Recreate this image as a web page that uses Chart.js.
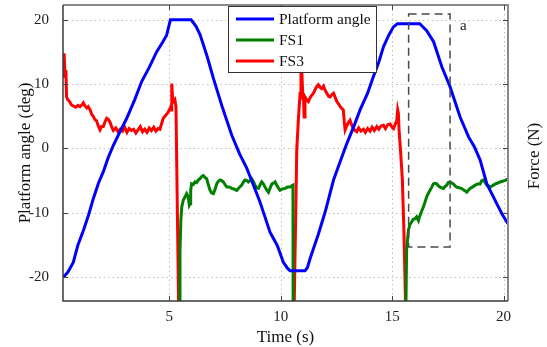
<!DOCTYPE html>
<html>
<head>
<meta charset="utf-8">
<script src="https://cdn.jsdelivr.net/npm/chart.js@4.4.1/dist/chart.umd.min.js"></script>
<style>
  html, body { margin: 0; padding: 0; background: #fff; }
  #wrap { width: 547px; height: 347px; }
</style>
</head>
<body>
<div id="wrap"><canvas id="trialChart" width="547" height="347"></canvas></div>
<script>
// Platform angle (deg) over time (s)
const angleTime = [0.25, 0.45, 0.69, 0.9, 1.14, 1.38, 1.59, 1.82, 2.04, 2.25, 2.49, 2.8, 3.09, 3.45, 3.76, 4.1, 4.43, 4.7, 4.88, 5.05,
    5.5, 5.98, 6.2, 6.38, 6.7, 6.98, 7.4, 7.8, 8.15, 8.48, 8.8, 9.07, 9.3, 9.52, 9.85, 10.12, 10.3, 10.42, 10.8, 11.09,
    11.2, 11.32, 11.7, 12.0, 12.37, 12.65, 12.97, 13.3, 13.56, 13.9, 14.16, 14.4, 14.61, 14.85, 15.06, 15.24, 15.7, 16.24,
    16.55, 16.86, 17.23, 17.6, 18.05, 18.43, 18.7, 18.95, 19.25, 19.5, 19.7, 19.95, 20.2];
const angle = [-20, -19.2, -17.7, -15.0, -12.8, -10.3, -7.8, -5.4, -3.6, -1.5, 0.5, 2.7, 4.7, 7.6, 10.4, 12.6, 15.0, 16.5, 17.6, 20,
    20, 20, 19, 17.7, 14.3, 10.9, 6.2, 2.1, -0.8, -3.1, -5.9, -8.3, -10.7, -13, -15.1, -17.7, -18.6, -19, -19, -19,
    -18.5, -17.1, -13.2, -9.8, -4.9, -2.2, 0.8, 3.6, 6.0, 8.6, 11.2, 13.4, 15.8, 17.6, 18.9, 19.4, 19.4, 19.4,
    18.3, 16.6, 12.7, 9.6, 4.9, 1.8, 0.2, -1.8, -5.5, -7.2, -8.6, -10.3, -11.7];

// FS1 force, values under the axis floor are the unloaded stretches
const fs1Time = [5.46, 5.48, 5.52, 5.56, 5.63, 5.7, 5.78, 5.84, 5.9, 5.93, 5.96, 6.0, 6.08, 6.15, 6.22, 6.3, 6.4, 6.47, 6.53, 6.6,
    6.68, 6.75, 6.83, 6.9, 6.98, 7.05, 7.13, 7.2, 7.28, 7.35, 7.43, 7.5, 7.58, 7.7, 7.8, 7.9, 8.03, 8.13, 8.25, 8.33,
    8.4, 8.48, 8.55, 8.62, 8.7, 8.78, 8.85, 8.92, 9.0, 9.08, 9.15, 9.22, 9.3, 9.38, 9.45, 9.52, 9.6, 9.68, 9.75, 9.85,
    9.97, 10.08, 10.2, 10.3, 10.42, 10.5, 10.55, 10.56, 15.6, 15.65, 15.73, 15.8, 15.88, 15.95, 16.03, 16.1, 16.18, 16.25, 16.32, 16.4,
    16.48, 16.55, 16.62, 16.7, 16.78, 16.85, 16.92, 17.0, 17.08, 17.15, 17.22, 17.3, 17.38, 17.45, 17.52, 17.6, 17.68, 17.75, 17.82, 17.9,
    18.0, 18.1, 18.2, 18.28, 18.35, 18.42, 18.5, 18.6, 18.73, 18.85, 18.95, 19.02, 19.1, 19.18, 19.25, 19.32, 19.4, 19.5, 19.63, 19.72,
    19.85, 19.95, 20.1, 20.2];
const fs1 = [-30, -15.8, -11, -9.1, -8.0, -7.6, -7.0, -7.4, -8.8, -8.6, -6.5, -5.5, -5.6, -5.2, -5.3, -4.9, -4.6, -4.3, -4.2, -4.5,
    -4.7, -5.6, -6.5, -6.9, -7.0, -6.4, -5.5, -5.1, -4.9, -5.0, -5.2, -5.6, -6.0, -6.0, -6.2, -6.3, -6.5, -6.1, -5.7, -5.2,
    -4.9, -5.0, -5.2, -5.0, -4.7, -5.2, -5.7, -6.1, -6.2, -5.6, -5.2, -5.5, -6.0, -6.5, -6.8, -6.2, -5.5, -5.4, -5.2, -5.9,
    -6.5, -6.3, -6.2, -6.0, -6.0, -5.8, -5.7, -30, -30, -15.8, -12.7, -11.8, -11.4, -11.0, -10.9, -10.6, -11.2, -10.4, -9.8, -9.1,
    -8.3, -7.5, -7.0, -6.5, -6.0, -5.5, -5.4, -5.5, -5.8, -6.0, -6.1, -6.2, -5.9, -5.7, -5.3, -5.2, -5.4, -5.5, -5.8, -6.0,
    -6.1, -6.2, -6.4, -6.6, -6.8, -6.5, -6.2, -6.0, -5.7, -5.5, -5.5, -5.0, -4.9, -5.3, -5.7, -5.8, -6.0, -5.8, -5.5, -5.4,
    -5.2, -5.1, -4.9, -4.7];

// FS3 force
const fs3Time = [0.24, 0.28, 0.32, 0.36, 0.39, 0.44, 0.47, 0.54, 0.6, 0.69, 0.8, 0.9, 0.99, 1.08, 1.14, 1.22, 1.3, 1.36, 1.45, 1.52,
    1.59, 1.66, 1.74, 1.8, 1.89, 1.96, 2.04, 2.12, 2.19, 2.27, 2.34, 2.42, 2.49, 2.6, 2.7, 2.8, 2.9, 3.0, 3.1, 3.2,
    3.3, 3.4, 3.5, 3.6, 3.7, 3.8, 3.9, 4.0, 4.1, 4.2, 4.3, 4.4, 4.5, 4.58, 4.65, 4.73, 4.85, 4.96, 5.04, 5.08,
    5.11, 5.15, 5.18, 5.25, 5.3, 5.44, 10.58, 10.72, 10.8, 10.87, 10.91, 10.95, 11.0, 11.02, 11.05, 11.09, 11.16, 11.24, 11.32, 11.4,
    11.47, 11.55, 11.62, 11.69, 11.77, 11.84, 11.92, 12.0, 12.07, 12.15, 12.22, 12.3, 12.37, 12.45, 12.52, 12.6, 12.67, 12.75, 12.81, 12.85,
    12.89, 12.96, 13.03, 13.11, 13.18, 13.26, 13.33, 13.41, 13.5, 13.6, 13.71, 13.8, 13.9, 14.01, 14.1, 14.2, 14.31, 14.4, 14.5, 14.61,
    14.7, 14.8, 14.91, 15.0, 15.06, 15.13, 15.21, 15.25, 15.28, 15.31, 15.38, 15.46, 15.53, 15.6, 15.63, 20.2];
const fs3 = [11, 14.8, 11.2, 12.2, 8.0, 7.6, 7.5, 7.2, 6.8, 6.6, 6.4, 6.7, 6.5, 6.8, 7.1, 6.6, 6.3, 6.5, 6.0, 5.3,
    5.0, 4.5, 4.3, 3.6, 2.9, 3.4, 3.4, 4.2, 4.7, 4.5, 4.1, 3.3, 2.8, 3.2, 2.6, 3.0, 2.7, 3.3, 2.5, 3.1,
    2.8, 3.0, 2.4, 2.9, 3.4, 2.6, 3.0, 2.5, 3.2, 2.8, 3.3, 2.7, 3.1, 3.0, 3.8, 4.7, 5.2, 5.7, 6.3, 6.0,
    10.1, 7.8, 7.3, 7.6, 6.5, -30, -30, -0.3, 5.0, 8.6, 14.0, 11.7, 7.5, 8.6, 4.9, 8.0, 7.6, 7.3, 7.9, 8.3,
    8.6, 9.2, 9.6, 9.9, 9.5, 9.3, 9.7, 9.0, 8.6, 8.1, 8.0, 8.4, 8.6, 7.9, 7.3, 6.9, 6.5, 6.2, 6.0, 4.2,
    2.9, 3.5, 4.0, 4.4, 3.7, 3.1, 2.8, 2.6, 3.2, 2.7, 3.0, 2.5, 3.1, 2.7, 3.3, 2.8, 3.4, 3.0, 3.5, 3.6,
    3.1, 3.7, 3.8, 3.3, 3.1, 3.7, 4.4, 6.0, 5.5, 2.9, -0.5, -4.9, -13, -23.7, -30, -30];

const timeTicks = [5, 10, 15, 20];
const angleTicks = [-20, -10, 0, 10, 20];

// dashed window "a" in data units
const windowA = { t0: 15.74, t1: 17.6, lo: -15.3, hi: 20.9, labelT: 18.2, labelV: 19.05 };

const serif = '"Liberation Serif", "Times New Roman", serif';
const pts = (xs, ys) => xs.map((t, i) => ({ x: t, y: ys[i] }));

// drop the label overhang padding so the plot box keeps its size
const noOverhang = s => { s.paddingTop = 0; s.paddingBottom = 0; s.paddingLeft = 0; s.paddingRight = 0; };

const axesFrame = {
    id: 'axesFrame',
    beforeDatasetsDraw(chart) {
        const { ctx, chartArea: a, scales: { x, y } } = chart;
        ctx.save();
        ctx.strokeStyle = '#c2c2c2';
        ctx.lineWidth = 1;
        ctx.setLineDash([1.5, 3]);
        ctx.beginPath();
        timeTicks.forEach(v => {
            const px = Math.round(x.getPixelForValue(v)) + 0.5;
            ctx.moveTo(px, a.top); ctx.lineTo(px, a.bottom);
        });
        angleTicks.forEach(v => {
            const py = Math.round(y.getPixelForValue(v)) + 0.5;
            ctx.moveTo(a.left, py); ctx.lineTo(a.right, py);
        });
        ctx.stroke();
        ctx.restore();
    },
    afterDatasetsDraw(chart) {
        const { ctx, chartArea: a, scales: { x, y } } = chart;
        ctx.save();

        // window a
        ctx.strokeStyle = '#4a4a4a';
        ctx.lineWidth = 1.5;
        ctx.setLineDash([8, 5]);
        const x0 = x.getPixelForValue(windowA.t0), x1 = x.getPixelForValue(windowA.t1);
        const y0 = y.getPixelForValue(windowA.hi), y1 = y.getPixelForValue(windowA.lo);
        ctx.strokeRect(x0, y0, x1 - x0, y1 - y0);
        ctx.setLineDash([]);
        ctx.fillStyle = '#222';
        ctx.font = '15px ' + serif;
        ctx.textAlign = 'center';
        ctx.textBaseline = 'middle';
        ctx.fillText('a', x.getPixelForValue(windowA.labelT), y.getPixelForValue(windowA.labelV));

        // box
        ctx.strokeStyle = '#8a8a8a';
        ctx.lineWidth = 2;
        ctx.beginPath();
        ctx.moveTo(a.left, a.top); ctx.lineTo(a.right, a.top); ctx.lineTo(a.right, a.bottom);
        ctx.stroke();
        ctx.strokeStyle = '#3a3a3a';
        ctx.lineWidth = 1.5;
        ctx.beginPath();
        ctx.moveTo(a.left, a.top); ctx.lineTo(a.left, a.bottom); ctx.lineTo(a.right, a.bottom);
        ctx.stroke();

        // inward tick marks on all four sides
        ctx.lineWidth = 1;
        ctx.strokeStyle = '#444';
        ctx.beginPath();
        timeTicks.forEach(v => {
            const px = Math.round(x.getPixelForValue(v)) + 0.5;
            ctx.moveTo(px, a.bottom); ctx.lineTo(px, a.bottom - 5);
            ctx.moveTo(px, a.top); ctx.lineTo(px, a.top + 5);
        });
        angleTicks.forEach(v => {
            const py = Math.round(y.getPixelForValue(v)) + 0.5;
            ctx.moveTo(a.left, py); ctx.lineTo(a.left + 5, py);
            ctx.moveTo(a.right, py); ctx.lineTo(a.right - 5, py);
        });
        ctx.stroke();

        // legend
        const lx = 228, ly = 6, lw = 148, lh = 66;
        ctx.fillStyle = '#fff';
        ctx.fillRect(lx, ly, lw, lh);
        ctx.strokeStyle = '#333';
        ctx.lineWidth = 1;
        ctx.strokeRect(lx + 0.5, ly + 0.5, lw, lh);
        ctx.font = '15.5px ' + serif;
        ctx.textAlign = 'left';
        ctx.textBaseline = 'middle';
        chart.data.datasets.forEach((ds, i) => {
            const ry = 19 + i * 21;
            ctx.strokeStyle = ds.borderColor;
            ctx.lineWidth = 3;
            ctx.beginPath();
            ctx.moveTo(236, ry); ctx.lineTo(274, ry);
            ctx.stroke();
            ctx.fillStyle = '#111';
            ctx.fillText(ds.label, 279, ry + 1);
        });

        // right-hand axis title, reading upwards like the left one
        const f = chart.scales.force;
        ctx.translate(f.right - 12, (a.top + a.bottom) / 2 + 3);
        ctx.rotate(-Math.PI / 2);
        ctx.font = '17px ' + serif;
        ctx.textAlign = 'center';
        ctx.fillStyle = '#111';
        ctx.fillText('Force (N)', 0, 0);
        ctx.restore();
    }
};

const lineStyle = { pointRadius: 0, borderWidth: 3, tension: 0, fill: false };

new Chart(document.getElementById('trialChart'), {
    type: 'line',
    data: {
        datasets: [
            { label: 'Platform angle', data: pts(angleTime, angle), borderColor: '#0000ff', ...lineStyle },
            { label: 'FS1', data: pts(fs1Time, fs1), borderColor: '#008000', ...lineStyle },
            { label: 'FS3', data: pts(fs3Time, fs3), borderColor: '#ff0000', ...lineStyle }
        ]
    },
    options: {
        responsive: false,
        animation: false,
        devicePixelRatio: 1,
        layout: { padding: { top: 5, left: 0, right: 0, bottom: 0 } },
        plugins: { legend: { display: false }, tooltip: { enabled: false } },
        scales: {
            x: {
                type: 'linear', min: 0.23, max: 20.2,
                grid: { display: false }, border: { display: false },
                ticks: { font: { family: serif, size: 15 }, color: '#222', padding: -1, maxRotation: 0 },
                afterBuildTicks: s => { s.ticks = timeTicks.map(v => ({ value: v })); },
                afterFit: s => { s.height = 46; noOverhang(s); },
                title: { display: true, text: 'Time (s)', font: { family: serif, size: 17 }, color: '#111', padding: { top: 0, bottom: -1 } }
            },
            y: {
                position: 'left', min: -23.7, max: 22.3,
                grid: { display: false }, border: { display: false },
                ticks: { font: { family: serif, size: 15 }, color: '#222', padding: 6 },
                afterBuildTicks: s => { s.ticks = angleTicks.map(v => ({ value: v })); },
                afterFit: s => { s.width = 63; noOverhang(s); },
                title: { display: true, text: 'Platform angle (deg)', font: { family: serif, size: 17 }, color: '#111', padding: { top: 15, bottom: 0 } }
            },
            force: {
                position: 'right', display: true, min: -23.7, max: 22.3,
                grid: { display: false }, border: { display: false },
                ticks: { display: false },
                afterFit: s => { s.width = 39; noOverhang(s); },
                title: { display: false }
            }
        }
    },
    plugins: [axesFrame]
});
</script>
</body>
</html>
